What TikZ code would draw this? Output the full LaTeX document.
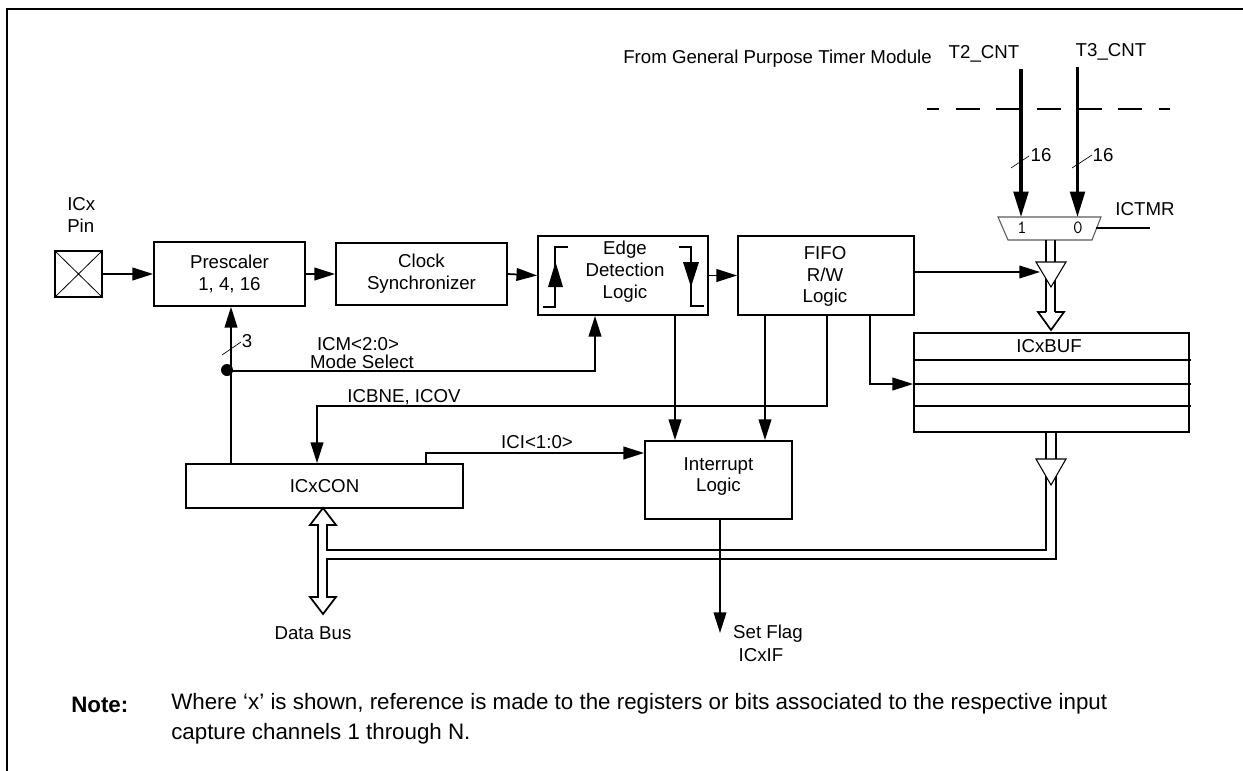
\documentclass[tikz,border=0pt]{standalone}
\usepackage{fontspec}
\setmainfont{Liberation Sans}
\usetikzlibrary{arrows.meta}
\tikzset{
  blk/.style={draw,line width=1.3pt,inner sep=0pt,align=center,font=\lbl},
  txt/.style={inner sep=0pt,align=center,font=\lbl},
  wire/.style={line width=1.3pt,-{Triangle[length=15.5pt,width=9.5pt]}},
  plain/.style={line width=1.3pt},
  bus/.style={line width=1.3pt},
  thickwire/.style={line width=2.4pt,-{Triangle[length=19pt,width=11pt]}},
  slash/.style={line width=0.5pt},
}
\newcommand{\lbl}{\fontsize{14}{16.4}\selectfont}
\newcommand{\notefont}{\fontsize{16.75}{22.5}\selectfont}
\begin{document}
\begin{tikzpicture}[x=0.75pt,y=0.75pt,yscale=-1,xscale=1]
\useasboundingbox (0,0) rectangle (1243,771);

%Frame
\draw [line width=1.5pt] (7,771) -- (7,9) -- (1243,9);

%Blocks
\node (pin) [draw,line width=1.3pt,minimum width=35.25pt,minimum height=34.5pt] at (78.5,274) {};
\draw [line width=0.6pt] (pin.north west) -- (pin.south east) (pin.north east) -- (pin.south west);
\node (prescaler) [blk,minimum width=113.25pt,minimum height=48pt] at (229.5,274) {Prescaler\\1, 4, 16};
\node (clock) [blk,minimum width=128.25pt,minimum height=46.5pt] at (421.5,274) {Clock\\Synchronizer};
\node (edge) [blk,minimum width=127.5pt,minimum height=59.25pt] at (623,275.5) {};
\node (edgelabel) [txt] at (625,271.5) {Edge\\Detection\\Logic};
\node (fifo) [blk,minimum width=132pt,minimum height=59.25pt] at (826,275.5) {};
\node (fifolabel) [txt] at (825,276.5) {FIFO\\R/W\\Logic};
\node (icxcon) [blk,minimum width=207.75pt,minimum height=33pt] at (324.5,486) {ICxCON};
\node (interrupt) [blk,minimum width=110.25pt,minimum height=58.5pt] at (718.5,480) {};
\node (interruptlabel) [txt] at (718.5,476.5) {Interrupt\\Logic};
\node (icxbuf) [draw,line width=1.3pt,minimum width=206.25pt,minimum height=74.25pt] at (1051.5,382.5) {};
\node (buflabel) [txt] at (1049,346) {ICxBUF};
\draw [plain] (914,360) -- (1191,360) (914,384) -- (1191,384) (914,406) -- (1191,406);

%Edge symbols
\draw [plain] (568,247) -- (555,247) -- (555,307) -- (543,307);
\draw [plain] (679,247) -- (691,247) -- (691,306) -- (704,306);
\fill (548,287) -- (563,287) -- (555.5,262) -- cycle;
\fill (683,262) -- (699,262) -- (691,287) -- cycle;

%Mux
\draw [line width=0.8pt,color={rgb, 255:red, 90; green, 90; blue, 90 }] (998,217) -- (1101,217) -- (1092,240) -- (1008,240) -- cycle;
\node (muxone) [txt,font=\ttfamily\lbl] at (1022,228) {1};
\node (muxzero) [txt,font=\ttfamily\lbl] at (1078,228) {0};
\coordinate (muxa) at (1021,217);
\coordinate (muxb) at (1077.5,217);
\coordinate (muxsel) at (1096,228);
\coordinate (tmrend) at (1150,228);
\draw [plain] (muxsel) -- (tmrend);

%Timer inputs
\coordinate (ttwo) at (1021,69);
\coordinate (tthree) at (1077.5,67);
\draw [thickwire] (ttwo) -- (muxa);
\draw [thickwire] (tthree) -- (muxb);
\draw [plain,dash pattern={on 18pt off 12.5pt},dash phase=9pt] (927,109) -- (1170,109);
\draw [slash] (1011,168) -- (1029,156);
\draw [slash] (1072,168) -- (1092,155);

%Bus between mux and ICxBUF
\draw [bus] (1046,240) -- (1046,312) (1055,240) -- (1055,312);
\draw [bus,fill=white] (1046,312) -- (1038,312) -- (1051,330) -- (1064,312) -- (1055,312);
\draw [line width=0.8pt,fill=white] (1036,262) -- (1066,262) -- (1051,287) -- cycle;
\coordinate (bufin) at (1040,272);
\draw [wire] (fifo.east |- bufin) -- (bufin);

%Bus from ICxBUF to data bus
\draw [bus] (1046,432) -- (1046,550) -- (327,550) -- (327,525) -- (336,525) -- (323,508) -- (310,525) -- (318,525) -- (318,597) -- (310,597) -- (323,614) -- (336,597) -- (327,597) -- (327,559) -- (1056,559) -- (1056,432);
\draw [line width=0.8pt,fill=white] (1036,459) -- (1066,459) -- (1051,485) -- cycle;

%Connectors
\draw [wire] (pin.east) -- (prescaler.west);
\draw [wire] (prescaler.east) -- (clock.west);
\draw [wire] (clock.east) -- (edge.west);
\draw [wire] (edge.east) -- (fifo.west);
\coordinate (tee) at (231,371);
\coordinate (modeup) at (595,371);
\draw [wire] (icxcon.north -| tee) -- (prescaler.south -| tee);
\draw [wire] (tee) -- (modeup) -- (edge.south -| modeup);
\fill (227,370) circle (6);
\draw [slash] (222,355) -- (241,342);
\coordinate (flagbus) at (827,406);
\coordinate (condown) at (317,406);
\draw [wire] (fifo.south -| flagbus) -- (flagbus) -- (condown) -- (icxcon.north -| condown);
\coordinate (edgeout) at (675,315);
\coordinate (fifoout) at (765,315);
\draw [wire] (edgeout) -- (interrupt.north -| edgeout);
\draw [wire] (fifoout) -- (interrupt.north -| fifoout);
\coordinate (bufdrop) at (870,384);
\draw [wire] (fifo.south -| bufdrop) -- (bufdrop) -- (icxbuf.west |- bufdrop);
\coordinate (iciup) at (426,453);
\draw [wire] (icxcon.north -| iciup) -- (iciup) -- (interrupt.west |- iciup);
\coordinate (flagend) at (720,633);
\draw [wire] (interrupt.south -| flagend) -- (flagend);

% Text Node
\node (timerlabel) [txt,anchor=east] at (932,59) {From General Purpose Timer Module};
\node (ttwolabel) [txt] at (984,54) {T2\_CNT};
\node (tthreelabel) [txt] at (1111,52) {T3\_CNT};
\node (sixteena) [txt] at (1041,155) {16};
\node (sixteenb) [txt] at (1103,155) {16};
\node (tmrlabel) [txt] at (1145,209) {ICTMR};
\node (pinlabel) [txt,align=left,anchor=west] at (67,215) {ICx\\Pin};
\node (threelabel) [txt] at (247,341) {3};
\node (icmlabel) [txt] at (358,344) {ICM<2:0>};
\node (modelabel) [txt] at (362,362) {Mode Select};
\node (flaglabel) [txt] at (404,397) {ICBNE, ICOV};
\node (icilabel) [txt] at (537,442) {ICI<1:0>};
\node (buslabel) [txt] at (313,633) {Data Bus};
\node (setlabel) [txt] at (768,634) {Set Flag};
\node (ifflabel) [txt] at (761,655) {ICxIF};
\node (notelabel) [inner sep=0pt,anchor=west,font=\notefont\bfseries] at (71,705) {Note:};
\node (notetext) [inner sep=0pt,anchor=north west,align=left,font=\notefont] at (171,693) {Where ‘x’ is shown, reference is made to the registers or bits associated to the respective input\\capture channels 1 through N.};

\end{tikzpicture}
\end{document}
